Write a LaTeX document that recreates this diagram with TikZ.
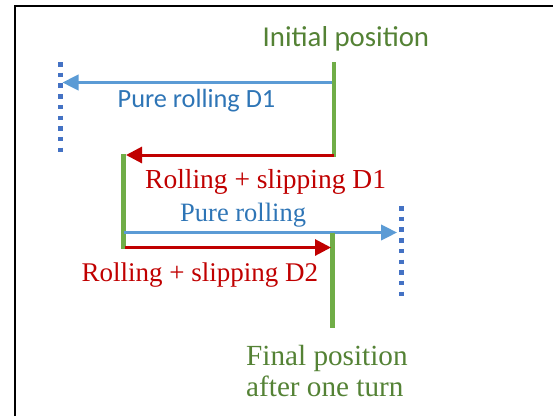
\documentclass[tikz,border=0pt]{standalone}
\usepackage{fontspec}
\setmainfont{Liberation Serif}
\newfontfamily\calibri{Carlito}
\usetikzlibrary{arrows.meta}
\definecolor{bargreen}{HTML}{70AD47}
\definecolor{textgreen}{HTML}{548235}
\definecolor{arrowblue}{HTML}{5B9BD5}
\definecolor{dotblue}{HTML}{4472C4}
\definecolor{textblue}{HTML}{2E75B6}
\definecolor{slipred}{HTML}{C00000}
\tikzset{
  bar/.style={bargreen, line width=4.5pt},
  rollarrow/.style={arrowblue, line width=2.5pt, -{Triangle[length=16pt,width=15.5pt]}},
  sliparrow/.style={slipred, line width=3pt, -{Triangle[length=16pt,width=16pt]}},
  limit/.style={dotblue, line width=4.5pt, dash pattern=on 4.5pt off 6.2pt},
  txt/.style={anchor=base west, inner sep=0pt}
}
\begin{document}
\begin{tikzpicture}[x=1pt,y=-1pt]
  \useasboundingbox (0,0) rectangle (553,416);
  % Frame
  \draw[line width=2pt] (15,416) -- (15,6) -- (553,6);
  % Initial position
  \coordinate (a top) at (334,62);
  \coordinate (a bot) at (334,157);
  \draw[bar] (a top) -- (a bot);
  \node[txt, textgreen] (initial) at (262.5,46) {\calibri\fontsize{28.8}{32}\selectfont Initial position};
  % Pure rolling D1
  \coordinate (a roll) at (332,82.5);
  \coordinate (d1 top) at (60.7,62);
  \coordinate (d1 bot) at (60.7,152);
  \coordinate (d1 roll) at (62.5,82.5);
  \draw[limit] (d1 top) -- (d1 bot);
  \draw[rollarrow] (a roll) -- (d1 roll);
  \node[txt, textblue] (pure d1) at (117.5,107) {\calibri\fontsize{26.3}{30}\selectfont Pure rolling D1};
  % Rolling + slipping D1
  \coordinate (a slip) at (334,155);
  \coordinate (b top) at (123.5,154);
  \coordinate (b bot) at (123.5,249);
  \coordinate (b slip) at (126,155);
  \draw[sliparrow] (a slip) -- (b slip);
  \draw[bar] (b top) -- (b bot);
  \node[txt, slipred] (slip d1) at (145,188.5) {\fontsize{27.5}{30}\selectfont Rolling + slipping D1};
  % Pure rolling
  \coordinate (b roll) at (123.5,232.5);
  \coordinate (d2 top) at (401.7,206);
  \coordinate (d2 bot) at (401.7,300);
  \coordinate (d2 roll) at (397,232.5);
  \draw[limit] (d2 top) -- (d2 bot);
  \draw[rollarrow] (b roll) -- (d2 roll);
  \node[txt, textblue] (pure) at (180,221.5) {\fontsize{26.5}{30}\selectfont Pure rolling};
  % Rolling + slipping D2
  \coordinate (b slip2) at (125,247.5);
  \coordinate (c slip) at (331,247.5);
  \coordinate (c top) at (332.3,232.5);
  \coordinate (c bot) at (332.3,328);
  \draw[bar] (c top) -- (c bot);
  \draw[sliparrow] (b slip2) -- (c slip);
  \node[txt, slipred] (slip d2) at (81.5,281.7) {\fontsize{27}{30}\selectfont Rolling + slipping D2};
  % Final position
  \node[txt, textgreen] (final) at (246,365) {\fontsize{29.2}{32}\selectfont Final position};
  \node[txt, textgreen] (turn) at (246,396.7) {\fontsize{29.2}{32}\selectfont after one turn};
\end{tikzpicture}
\end{document}
